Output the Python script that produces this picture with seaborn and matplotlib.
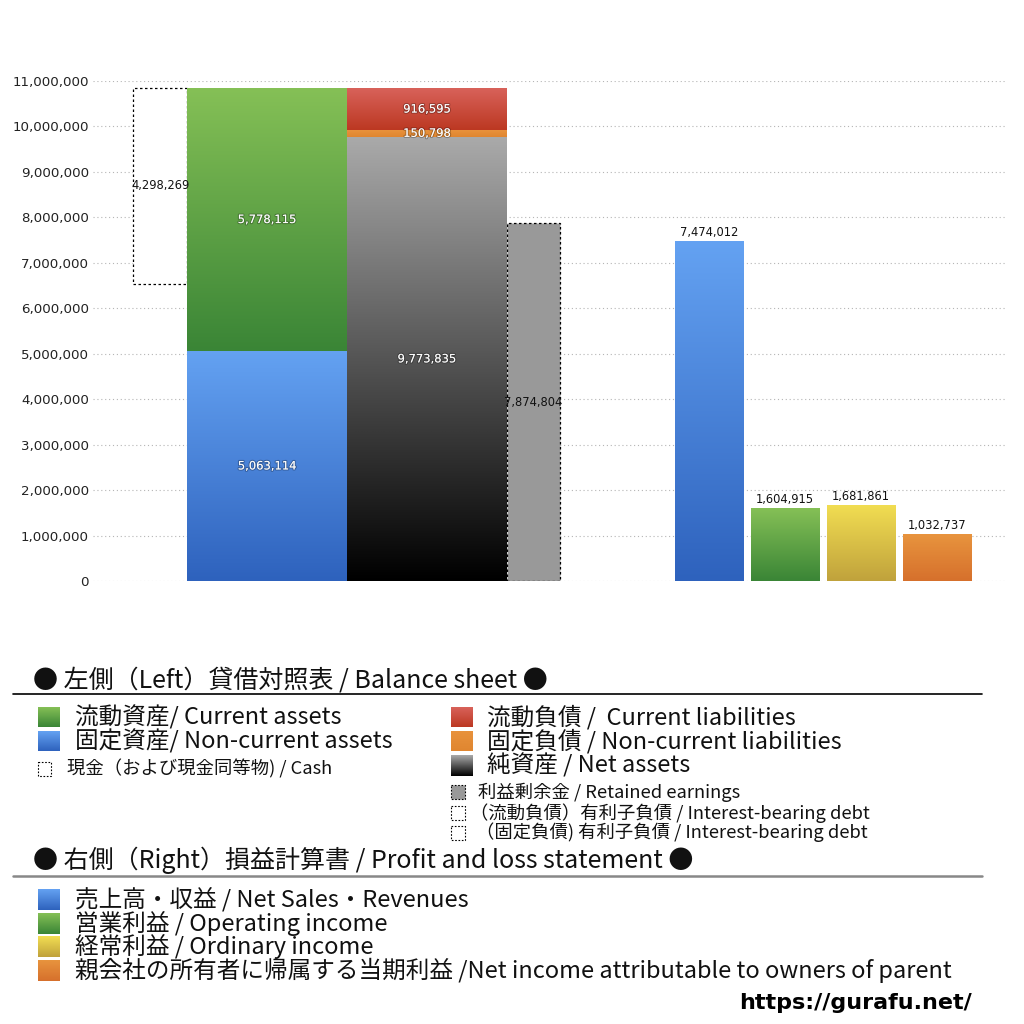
import numpy as np
import pandas as pd
import matplotlib
matplotlib.use("Agg")
import matplotlib.pyplot as plt
import matplotlib.colors as mcolors
import matplotlib.patheffects as pe
from matplotlib.patches import Rectangle
from matplotlib.ticker import FuncFormatter
import seaborn as sns

# ---------------- data ----------------
cash = 4298269
current_assets = 5778115
noncurrent_assets = 5063114
current_liabilities = 916595
noncurrent_liabilities = 150798
net_assets = 9773835
retained_earnings = 7874804

pl_items = ["売上高・収益", "営業利益", "経常利益", "親会社の所有者に帰属する当期利益"]
pl_values = [7474012, 1604915, 1681861, 1032737]

y_ticks = list(range(0, 11000001, 1000000))

# ---------------- layout / style ----------------
pl_pos = [8.112, 9.112, 10.112, 11.112]
grad = {
    "blue": ("#64A2F2", "#2E62BD"),
    "green": ("#85C056", "#3A8536"),
    "red": ("#D8625A", "#BC3822"),
    "orange": ("#E8923C", "#E08630"),
    "gray": ("#AAAAAA", "#000000"),
    "yellow": ("#F2DE52", "#C0A23C"),
    "orange2": ("#E8943E", "#D6702C"),
}
pl_grad = ["blue", "green", "yellow", "orange2"]

sns.set_theme(style="whitegrid")
plt.rcParams['font.family'] = ['DejaVu Sans']
JP = ['Noto Sans CJK JP', 'DejaVu Sans']

fig = plt.figure(figsize=(10.24, 10.24), dpi=100)
ax = fig.add_axes([93 / 1024, 1 - 581 / 1024, 914 / 1024, 500 / 1024])

VAL_FS = 8.3


def gradient_fill(axis, patch, key, z=2.1):
    top, bot = grad[key]
    c1 = np.array(mcolors.to_rgb(top))
    c2 = np.array(mcolors.to_rgb(bot))
    t = np.linspace(0, 1, 256)[:, None, None]
    img = c1[None, None, :] * (1 - t) + c2[None, None, :] * t
    x0, y0 = patch.get_x(), patch.get_y()
    w, h = patch.get_width(), patch.get_height()
    im = axis.imshow(img, extent=(x0, x0 + w, y0, y0 + h), origin="upper",
                     aspect="auto", zorder=z, interpolation="bilinear")
    im.set_clip_path(patch)
    return im


# ---- P&L bars with seaborn ----
pl_df = pd.DataFrame({"pos": pl_pos, "value": pl_values, "item": pl_items})
before = len(ax.patches)
sns.barplot(data=pl_df, x="pos", y="value", hue="item", hue_order=pl_items,
            palette=[grad[k][0] for k in pl_grad], native_scale=True, width=0.9,
            dodge=False, errorbar=None, saturation=1, legend=False, ax=ax, zorder=2)
pl_patches = sorted(ax.patches[before:], key=lambda p: p.get_x())
pl_patches = [p for p in pl_patches if p.get_height() > 0]
for p, key, v in zip(pl_patches, pl_grad, pl_values):
    p.set_linewidth(0)
    gradient_fill(ax, p, key)
    ax.text(p.get_x() + p.get_width() / 2, v + 40000, f"{v:,}", ha="center", va="bottom",
            fontsize=VAL_FS, color="#111111", zorder=6)

# ---- balance sheet ----
total_assets = current_assets + noncurrent_assets
cash_left, cash_w = 0.53, 0.707
as_left, as_w = 1.237, 2.105
li_left, li_w = 3.342, 2.105
re_left, re_w = 5.447, 0.698

shadow = [pe.withStroke(linewidth=1.6, foreground=(0, 0, 0, 0.25))]

ax.bar(cash_left, cash, bottom=total_assets - cash, width=cash_w, align="edge",
       facecolor="white", edgecolor="black", linewidth=0.9,
       linestyle=(0, (2, 2)), zorder=2)
ax.text(cash_left + cash_w / 2, total_assets - cash / 2, f"{cash:,}", ha="center",
        va="center", fontsize=VAL_FS, color="#111111", zorder=6)

segs = [
    (as_left, as_w, 0, noncurrent_assets, "blue"),
    (as_left, as_w, noncurrent_assets, current_assets, "green"),
    (li_left, li_w, 0, net_assets, "gray"),
    (li_left, li_w, net_assets, noncurrent_liabilities, "orange"),
    (li_left, li_w, net_assets + noncurrent_liabilities, current_liabilities, "red"),
]
for left, w, bottom, h, key in segs:
    p = ax.bar(left, h, bottom=bottom, width=w, align="edge", color=grad[key][0],
               linewidth=0, zorder=2)[0]
    gradient_fill(ax, p, key)
    ax.text(left + w / 2, bottom + h / 2, f"{h:,}", ha="center", va="center",
            fontsize=VAL_FS, color="white", zorder=6, path_effects=shadow)

ax.bar(re_left, retained_earnings, width=re_w, align="edge", facecolor="#999999",
       edgecolor="black", linewidth=0.9, linestyle=(0, (2, 2)), zorder=2)
ax.text(re_left + re_w / 2, retained_earnings / 2, f"{retained_earnings:,}", ha="center",
        va="center", fontsize=VAL_FS, color="#111111", zorder=6)

# ---- axes styling ----
ax.set_xlim(0, 12.03)
ax.set_ylim(0, 11000000)
ax.set_yticks(y_ticks)
ax.yaxis.set_major_formatter(FuncFormatter(lambda v, _: f"{int(v):,}"))
ax.tick_params(axis="y", labelsize=9.6, pad=3, length=0, labelcolor="#222222")
ax.set_xticks([])
ax.set_xlabel("")
ax.set_ylabel("")
ax.xaxis.grid(False)
ax.yaxis.grid(True, linestyle=(0, (1, 2.5)), color="#b5b5b5", linewidth=0.8)
ax.set_axisbelow(True)
for s in ax.spines.values():
    s.set_visible(False)
ax.set_facecolor("white")

# ---------------- legend (pixel coords) ----------------
lax = fig.add_axes([0, 0, 1, 1])
lax.axis("off")


def grad_square(x0, y0, x1, y1, key):
    top, bot = grad[key]
    c1 = np.array(mcolors.to_rgb(top))
    c2 = np.array(mcolors.to_rgb(bot))
    t = np.linspace(0, 1, 64)[:, None, None]
    img = c1[None, None, :] * (1 - t) + c2[None, None, :] * t
    lax.imshow(img, extent=(x0, x1, y1, y0), origin="upper", aspect="auto",
               interpolation="bilinear")


def dotted_square(x0, y0, x1, y1, fc="white"):
    lax.add_patch(Rectangle((x0, y0), x1 - x0, y1 - y0, facecolor=fc, edgecolor="black",
                            linewidth=0.8, linestyle=(0, (1.5, 1.5))))


big = 17
small = 13.2
head = 18
TXT = "#111111"

lax.text(33, 680, "● 左側（Left）貸借対照表 / Balance sheet ●", fontsize=head, va="center",
         ha="left", family=JP, color=TXT)
lax.plot([13, 982], [694, 694], color="black", linewidth=1.2)

grad_square(38, 707, 60, 727, "green")
lax.text(75, 717, "流動資産/ Current assets", fontsize=big, va="center", family=JP, color=TXT)
grad_square(38, 731, 60, 751, "blue")
lax.text(75, 741, "固定資産/ Non-current assets", fontsize=big, va="center", family=JP, color=TXT)
dotted_square(38, 762, 51, 776)
lax.text(67, 769, "現金（および現金同等物) / Cash", fontsize=small, va="center", family=JP, color=TXT)

grad_square(451, 707, 473, 727, "red")
lax.text(487, 717, "流動負債 /  Current liabilities", fontsize=big, va="center", family=JP, color=TXT)
grad_square(451, 731, 473, 751, "orange")
lax.text(487, 741, "固定負債 / Non-current liabilities", fontsize=big, va="center", family=JP, color=TXT)
grad_square(451, 755, 473, 776, "gray")
lax.text(487, 765, "純資産 / Net assets", fontsize=big, va="center", family=JP, color=TXT)
dotted_square(451, 785, 465, 799, fc="#999999")
lax.text(478, 792, "利益剰余金 / Retained earnings", fontsize=small, va="center", family=JP, color=TXT)
dotted_square(451, 806, 465, 820)
lax.text(470, 813, "（流動負債）有利子負債 / Interest-bearing debt", fontsize=small, va="center", family=JP, color=TXT)
dotted_square(451, 826, 465, 840)
lax.text(476, 832, "（固定負債) 有利子負債 / Interest-bearing debt", fontsize=small, va="center", family=JP, color=TXT)

lax.text(33, 860, "● 右側（Right）損益計算書 / Profit and loss statement ●", fontsize=head, va="center",
         ha="left", family=JP, color=TXT)
lax.plot([13, 982], [876, 876], color="#888888", linewidth=1.8)

pl_legend = ["売上高・収益 / Net Sales・Revenues", "営業利益 / Operating income",
             "経常利益 / Ordinary income",
             "親会社の所有者に帰属する当期利益 /Net income attributable to owners of parent"]
for i, (txt, key) in enumerate(zip(pl_legend, pl_grad)):
    y0 = 889 + i * 23.7
    grad_square(38, y0, 60, y0 + 21, key)
    lax.text(75, y0 + 10.5, txt, fontsize=big, va="center", family=JP, color=TXT)

lax.text(972, 1003, "https://gurafu.net/", fontsize=16, fontweight="bold", ha="right",
         va="center", color="black")

lax.set_xlim(0, 1024)
lax.set_ylim(1024, 0)

fig.savefig("out.png", dpi=100, facecolor="white")
